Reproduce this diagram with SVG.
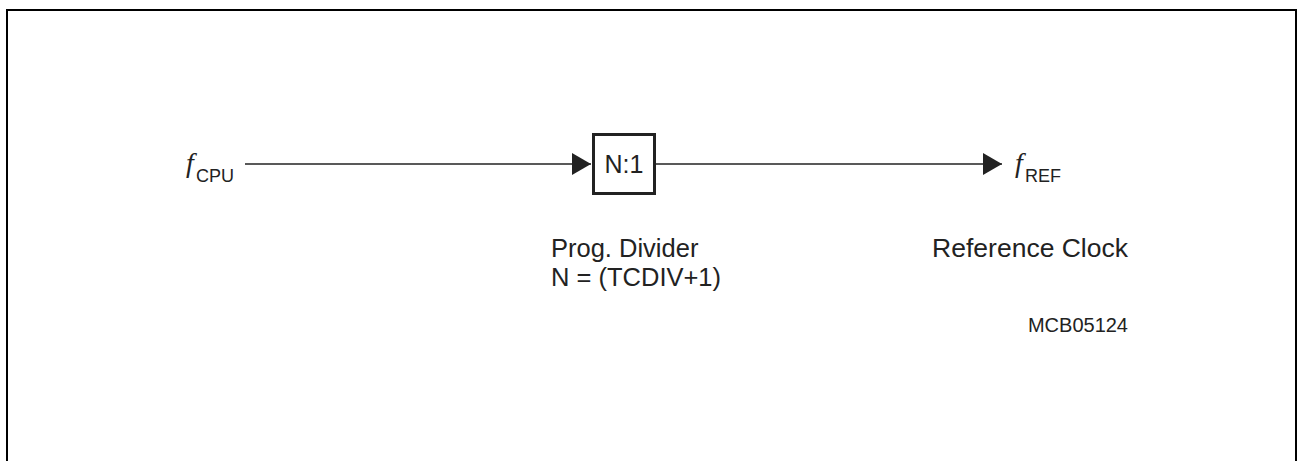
<svg xmlns="http://www.w3.org/2000/svg" width="1297" height="461" viewBox="0 0 1297 461">
<style>
.sans{font-family:"Liberation Sans",Arial,sans-serif;fill:#222}
.fi{font-family:"Liberation Serif","Times New Roman",serif;font-style:italic;fill:#222}
.ln{stroke:#222;stroke-width:1.5;fill:none}
</style>
<defs>
<marker id="ah" markerWidth="20" markerHeight="22" refX="19" refY="11" orient="auto" markerUnits="userSpaceOnUse">
<path d="M0,0 L19,11 L0,22 Z" fill="#222"/>
</marker>
</defs>
<rect width="1297" height="461" fill="#fff"/>
<path d="M7,461 V10 H1296 V461" fill="none" stroke="#000" stroke-width="2"/>
<g id="connectors">
<line class="ln" x1="245" y1="164" x2="591" y2="164" marker-end="url(#ah)"/>
<line class="ln" x1="656" y1="164" x2="1002" y2="164" marker-end="url(#ah)"/>
</g>
<g id="fcpu">
<text class="fi" x="186" y="172" font-size="28">f</text>
<text class="sans" x="196" y="182" font-size="18">CPU</text>
</g>
<g id="divider">
<rect x="593.5" y="134.5" width="61" height="59" fill="#fff" stroke="#222" stroke-width="3"/>
<text class="sans" x="624" y="173" font-size="25" text-anchor="middle">N:1</text>
<text class="sans" x="551" y="257" font-size="25.5">Prog. Divider</text>
<text class="sans" x="551" y="286" font-size="25.5">N = (TCDIV+1)</text>
</g>
<g id="fref">
<text class="fi" x="1015" y="172" font-size="28">f</text>
<text class="sans" x="1025" y="182" font-size="18">REF</text>
<text class="sans" x="1128" y="257" font-size="26.5" text-anchor="end">Reference Clock</text>
<text class="sans" x="1128" y="332" font-size="20" text-anchor="end">MCB05124</text>
</g>
</svg>
